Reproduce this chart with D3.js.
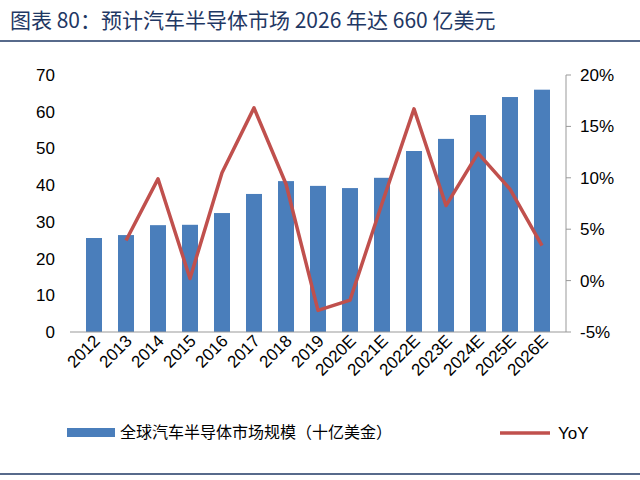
<!DOCTYPE html>
<html><head><meta charset="utf-8">
<script src="https://cdn.jsdelivr.net/npm/d3@7"></script>
<style>body{margin:0;background:#fff}</style>
</head><body>
<svg id="c" width="640" height="480"></svg>
<script>
// chart values
var years = ["2012","2013","2014","2015","2016","2017","2018","2019","2020E","2021E","2022E","2023E","2024E","2025E","2026E"];
var market = [25.6,26.4,29.1,29.2,32.4,37.6,41.1,39.8,39.2,42.0,49.3,52.6,59.1,64.0,66.0];
var yoy = [null,3.9,9.9,0.2,10.5,16.8,9.4,-2.9,-1.9,7.5,16.7,7.3,12.4,8.9,3.4];
var leftTicks = [0,10,20,30,40,50,60,70];
var rightTicks = [-5,0,5,10,15,20];

var svg = d3.select("#c"),
    font = "'Liberation Sans',Arial,sans-serif",
    cjk = "'Noto Sans CJK SC',sans-serif";

svg.append("text").attr("x", 10).attr("y", 28)
  .attr("fill", "#1f3864").attr("font-size", 21).attr("font-family", cjk)
  .text("图表 80：预计汽车半导体市场 2026 年达 660 亿美元");
svg.append("line").attr("x1", 0).attr("x2", 640).attr("y1", 41).attr("y2", 41)
  .attr("stroke", "#1f3864").attr("stroke-width", 1.5);
svg.append("line").attr("x1", 0).attr("x2", 640).attr("y1", 474).attr("y2", 474)
  .attr("stroke", "#1f3864").attr("stroke-width", 1.5);

var x = d3.scaleBand().domain(years).range([70, 566]).padding(0.5),
    yL = d3.scaleLinear().domain([0, 70]).range([332, 75]),
    yR = d3.scaleLinear().domain([-5, 20]).range([332, 75]);

svg.append("g").selectAll("rect").data(market).enter().append("rect")
  .attr("x", function(d, i) { return x(years[i]); })
  .attr("y", function(d) { return yL(d); })
  .attr("width", x.bandwidth())
  .attr("height", function(d) { return yL(0) - yL(d); })
  .attr("fill", "#4a7ebb");

var line = d3.line()
  .defined(function(d) { return d !== null; })
  .x(function(d, i) { return x(years[i]) + x.bandwidth() / 2; })
  .y(function(d) { return yR(d); });
svg.append("path").datum(yoy).attr("d", line)
  .attr("fill", "none").attr("stroke", "#c0504d").attr("stroke-width", 3.5)
  .attr("stroke-linejoin", "round");

// axes
svg.append("line").attr("x1", 70).attr("x2", 566).attr("y1", 332).attr("y2", 332).attr("stroke", "#999");
svg.append("line").attr("x1", 566).attr("x2", 566).attr("y1", 75).attr("y2", 332).attr("stroke", "#999");
svg.append("g").selectAll("text").data(leftTicks).enter().append("text")
  .attr("x", 55).attr("y", function(d) { return yL(d) + 6; })
  .attr("text-anchor", "end").attr("font-size", 17).attr("font-family", font)
  .text(function(d) { return d; });
svg.append("g").selectAll("text").data(rightTicks).enter().append("text")
  .attr("x", 580).attr("y", function(d) { return yR(d) + 6; })
  .attr("font-size", 17).attr("font-family", font)
  .text(function(d) { return d + "%"; });
svg.append("g").selectAll("line").data(rightTicks).enter().append("line")
  .attr("x1", 566).attr("x2", 571)
  .attr("y1", function(d) { return yR(d); }).attr("y2", function(d) { return yR(d); })
  .attr("stroke", "#999");
svg.append("g").selectAll("text").data(years).enter().append("text")
  .attr("transform", function(d) { return "translate(" + (x(d) + x.bandwidth() / 2 + 7) + ",342) rotate(-45)"; })
  .attr("text-anchor", "end").attr("font-size", 17).attr("font-family", font)
  .text(function(d) { return d; });

// legend
svg.append("rect").attr("x", 67).attr("y", 428).attr("width", 48).attr("height", 9).attr("fill", "#4a7ebb");
svg.append("text").attr("x", 120).attr("y", 438).attr("font-size", 16).attr("font-family", cjk)
  .text("全球汽车半导体市场规模（十亿美金）");
svg.append("line").attr("x1", 500).attr("x2", 550).attr("y1", 433).attr("y2", 433)
  .attr("stroke", "#c0504d").attr("stroke-width", 3.5);
svg.append("text").attr("x", 558).attr("y", 439).attr("font-size", 17).attr("font-family", font).text("YoY");
</script>
</body></html>
